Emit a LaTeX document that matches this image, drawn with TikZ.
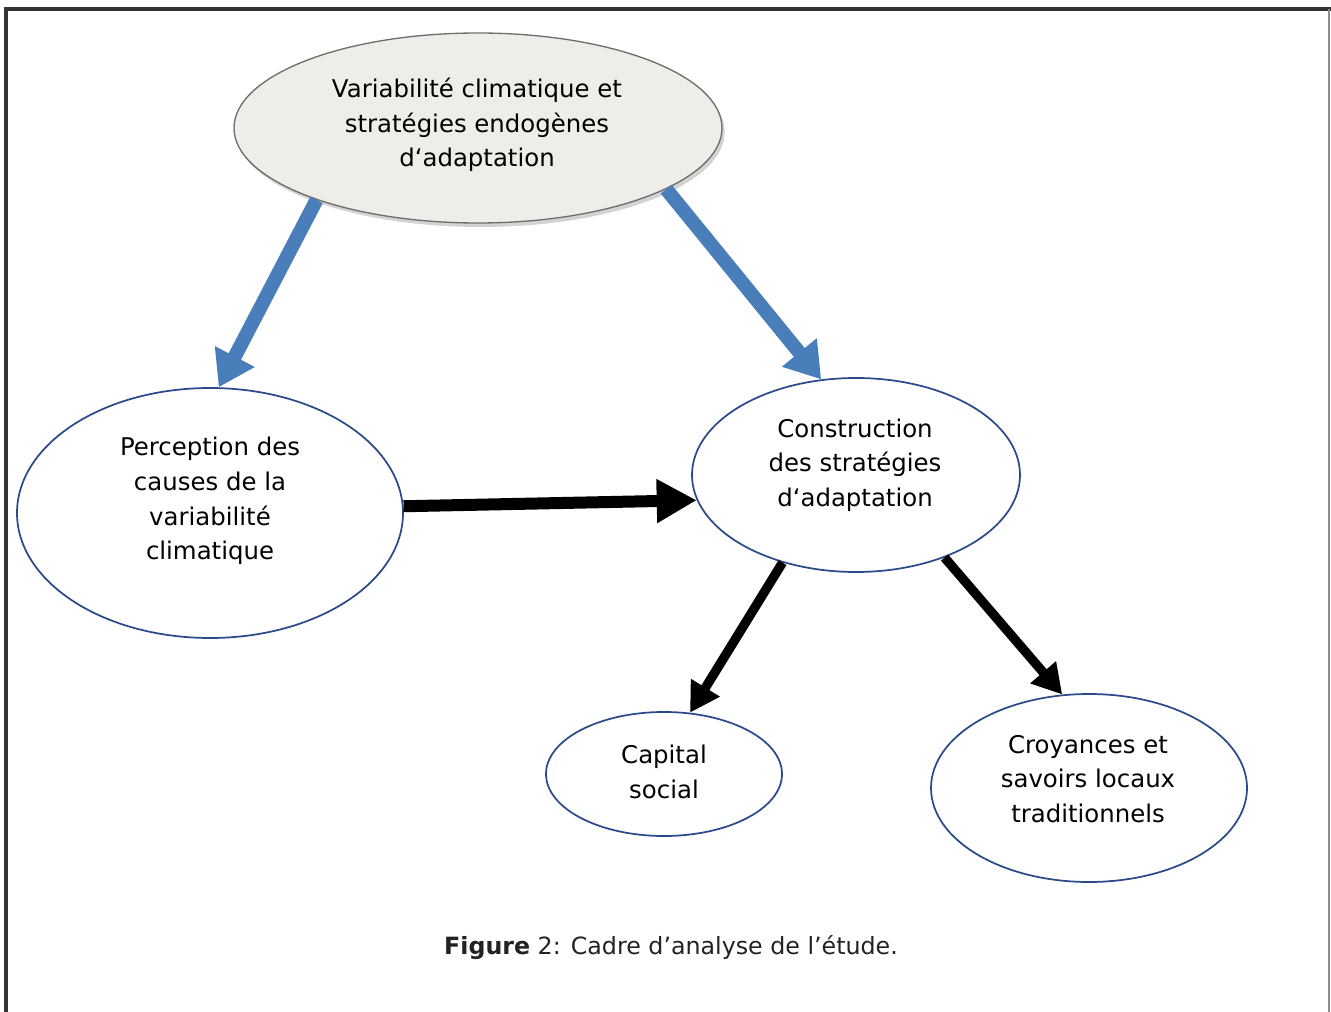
\documentclass[tikz,border=0pt]{standalone}
\usepackage{fontspec}
\setmainfont{DejaVu Sans}
\usetikzlibrary{shapes.geometric,arrows.meta,shadows}
\definecolor{ellborder}{HTML}{2B4A8B}
\definecolor{bluearrow}{HTML}{4A7EBB}
\definecolor{topfill}{HTML}{EEEDE7}
\definecolor{topborder}{HTML}{6E6E6E}
\definecolor{captext}{HTML}{222222}
\tikzset{
  oval/.style={ellipse, draw=ellborder, line width=1.3pt, fill=white, inner sep=0pt},
  lbl/.style={align=center, font=\fontsize{18.3pt}{26pt}\selectfont, text=black, inner sep=0pt},
  bluearr/.style={draw=bluearrow, line width=10.5pt, -{Triangle[length=26pt,width=32pt]}},
  bigarr/.style={draw=black, line width=9pt, -{Triangle[length=30pt,width=31pt]}},
  blkarr/.style={draw=black, line width=7pt, -{Triangle[length=22pt,width=24pt]}},
}
\begin{document}
\begin{tikzpicture}[x=0.75pt,y=-0.75pt]
\useasboundingbox (0,0) rectangle (1331,1012);
% frame
\draw[line width=2.4pt, black!80] (4,9) -- (1331,9);
\draw[line width=2.4pt, black!80] (6,8) -- (6,1012);
\draw[line width=1.2pt, black!45] (1329,9) -- (1329,1012);
% ellipses
\node[ellipse, draw=topborder, line width=1pt, fill=topfill, inner sep=0pt,
      minimum width=366pt, minimum height=142.5pt,
      drop shadow={shadow xshift=2pt, shadow yshift=-3pt, opacity=0.35}] (top) at (478,128) {};
\node[oval, minimum width=289.5pt, minimum height=187.5pt] (left) at (210,513) {};
\node[oval, minimum width=246pt, minimum height=145.5pt] (cons) at (856,475) {};
\node[oval, minimum width=177pt, minimum height=93pt] (cap) at (664,774) {};
\node[oval, minimum width=237pt, minimum height=141pt] (croy) at (1089,788) {};
% texts
\node[lbl] (ttop) at (477,125) {Variabilité climatique et\\stratégies endogènes\\d‘adaptation};
\node[lbl] (tleft) at (210,501) {Perception des\\causes de la\\variabilité\\climatique};
\node[lbl] (tcons) at (855,465) {Construction\\des stratégies\\d‘adaptation};
\node[lbl] (tcap) at (664,772) {Capital\\social};
\node[lbl] (tcroy) at (1088,779) {Croyances et\\savoirs locaux\\traditionnels};
% arrows
\draw[bluearr] (top.204.4) -- (left.86.4);
\draw[bluearr] (top.-18) -- (cons.110);
\draw[bigarr] (left.2.7) -- (cons.189);
\draw[blkarr] (cons.230) -- (cap.67);
\draw[blkarr] (cons.-43) -- (croy.106.8);
% caption
\node[font=\fontsize{17.8pt}{21pt}\selectfont, text=captext, inner sep=0pt] (cap2) at (671,948) {\textbf{Figure} 2: Cadre d’analyse de l’étude.};
\end{tikzpicture}
\end{document}
